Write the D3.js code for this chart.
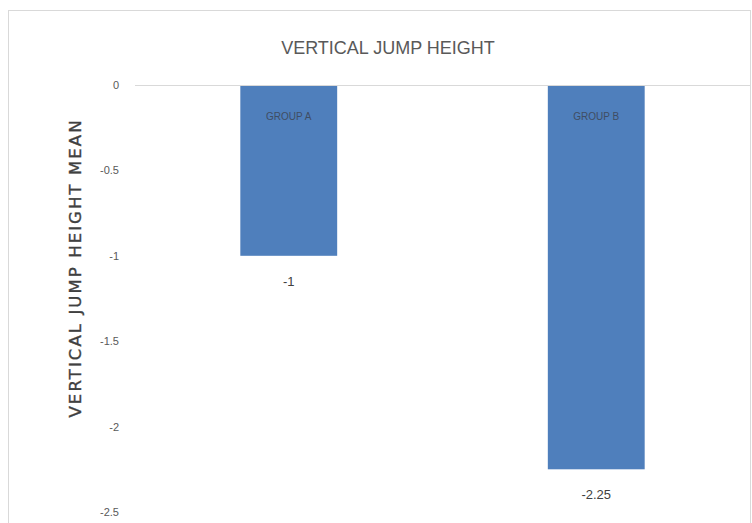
<!DOCTYPE html>
<html>
<head>
<meta charset="utf-8">
<script src="https://cdn.jsdelivr.net/npm/d3@7"></script>
<style>
  body { margin: 0; background: #fff; }
  text { font-family: "Liberation Sans", sans-serif; }
</style>
</head>
<body>
<div id="chart"></div>
<script>
const groups = ["GROUP A", "GROUP B"];
const means = [-1, -2.25];
const yTicks = [0, -0.5, -1, -1.5, -2, -2.5];

const svgWidth = 752;
const svgHeight = 523;
const margin = { top: 85, right: 2, bottom: 11, left: 135 };

const svg = d3.select("#chart")
  .append("svg")
  .attr("width", svgWidth)
  .attr("height", svgHeight);

// chart frame
svg.append("rect")
  .attr("x", 8.5)
  .attr("y", 10.5)
  .attr("width", 742)
  .attr("height", 530)
  .attr("fill", "none")
  .attr("stroke", "#d9d9d9");

const x = d3.scaleBand()
  .domain(groups)
  .range([margin.left, svgWidth - margin.right])
  .paddingInner(0.685)
  .paddingOuter(0.3425);

const y = d3.scaleLinear()
  .domain([0, -2.5])
  .range([margin.top, svgHeight - margin.bottom]);

// y axis labels, no line
const yAxis = d3.axisLeft(y)
  .tickValues(yTicks)
  .tickFormat(d => String(d))
  .tickSize(0)
  .tickPadding(16);

svg.append("g")
  .attr("transform", `translate(${margin.left},0)`)
  .call(yAxis)
  .call(g => g.select(".domain").remove())
  .call(g => g.selectAll("text")
    .attr("fill", "#595959")
    .style("font-family", "'Liberation Sans', sans-serif")
    .style("font-size", "11px"));

// bars
svg.selectAll("rect.bar")
  .data(groups)
  .enter()
  .append("rect")
  .attr("class", "bar")
  .attr("x", d => x(d))
  .attr("y", y(0))
  .attr("width", x.bandwidth())
  .attr("height", (d, i) => y(means[i]) - y(0))
  .attr("fill", "#4f7fbc");

// zero line
svg.append("line")
  .attr("x1", margin.left)
  .attr("x2", svgWidth - margin.right)
  .attr("y1", y(0) + 0.5)
  .attr("y2", y(0) + 0.5)
  .attr("stroke", "#d9d9d9");

// category labels inside bars
svg.selectAll("text.cat")
  .data(groups)
  .enter()
  .append("text")
  .attr("class", "cat")
  .attr("x", d => x(d) + x.bandwidth() / 2)
  .attr("y", y(0) + 35)
  .attr("text-anchor", "middle")
  .attr("fill", "#3f4d63")
  .style("font-size", "10px")
  .text(d => d);

// value labels below bars
svg.selectAll("text.val")
  .data(groups)
  .enter()
  .append("text")
  .attr("class", "val")
  .attr("x", d => x(d) + x.bandwidth() / 2)
  .attr("y", (d, i) => y(means[i]) + 30)
  .attr("text-anchor", "middle")
  .attr("fill", "#404040")
  .style("font-size", "13px")
  .text((d, i) => String(means[i]));

// title
svg.append("text")
  .attr("x", 388)
  .attr("y", 54)
  .attr("text-anchor", "middle")
  .attr("fill", "#595959")
  .style("font-size", "18px")
  .text("VERTICAL JUMP HEIGHT");

// y axis title
svg.append("text")
  .attr("transform", `translate(81,269) rotate(-90)`)
  .attr("text-anchor", "middle")
  .attr("fill", "#404040")
  .attr("stroke", "#404040")
  .attr("stroke-width", 0.35)
  .style("font-family", "'DejaVu Sans', sans-serif")
  .style("font-size", "16.5px")
  .attr("textLength", 297)
  .attr("lengthAdjust", "spacing")
  .text("VERTICAL JUMP HEIGHT MEAN");
</script>
</body>
</html>
